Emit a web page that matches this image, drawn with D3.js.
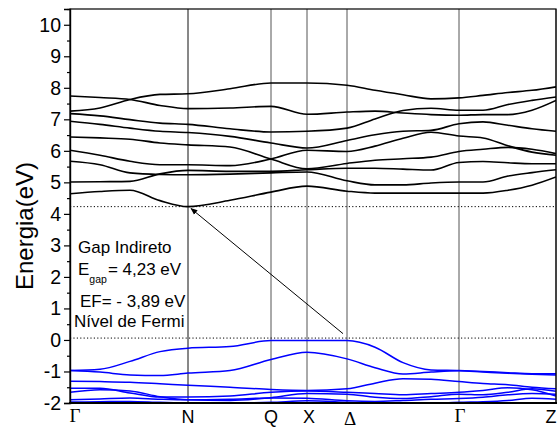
<!DOCTYPE html>
<html><head><meta charset="utf-8">
<script src="https://cdn.jsdelivr.net/npm/d3@7"></script>
<style>body{margin:0;background:#fff}</style>
</head><body><svg id="c" width="557" height="428"></svg>
<script>
// ---- data ----
const kLabels = ["Γ", "N", "Q", "X", "Δ", "Γ", "Z"];
const kPositions = [0, 118, 201, 237, 277, 389, 486];
const kGrid = [0, 30, 60, 90, 118, 160, 201, 237, 277, 305, 333, 361, 389, 413, 438, 462, 486];

const conduction1 = [7.74, 7.69, 7.63, 7.44, 7.34, 7.36, 7.41, 7.16, 7.23, 7.26, 7.20, 7.15, 7.13, 7.15, 7.15, 7.29, 7.60];
const conduction2 = [7.26, 7.36, 7.63, 7.79, 7.81, 7.97, 8.15, 8.15, 8.08, 7.92, 7.78, 7.65, 7.68, 7.76, 7.85, 7.92, 8.03];
const conduction3 = [7.18, 7.11, 6.99, 6.88, 6.84, 6.70, 6.60, 6.62, 6.72, 7.01, 7.28, 7.35, 7.29, 7.29, 7.47, 7.60, 7.71];
const conduction4 = [6.94, 6.84, 6.72, 6.62, 6.58, 6.46, 6.25, 6.09, 6.33, 6.51, 6.62, 6.65, 6.86, 6.92, 6.81, 6.70, 6.62];
const conduction5 = [6.44, 6.41, 6.37, 6.25, 6.19, 6.12, 5.74, 5.43, 5.60, 5.70, 5.75, 5.80, 5.98, 6.05, 6.11, 6.05, 5.91];
const conduction6 = [6.02, 5.86, 5.67, 5.56, 5.56, 5.53, 5.74, 6.02, 5.98, 6.15, 6.40, 6.59, 6.47, 6.41, 6.16, 5.96, 5.86];
const conduction7 = [5.67, 5.56, 5.30, 5.25, 5.24, 5.26, 5.30, 5.33, 5.05, 4.92, 4.92, 4.98, 5.01, 5.01, 5.20, 5.31, 5.40];
const conduction8 = [5.01, 5.02, 5.03, 5.27, 5.38, 5.35, 5.35, 5.40, 5.45, 5.45, 5.42, 5.39, 5.63, 5.66, 5.62, 5.59, 5.59];
const conduction9 = [4.64, 4.71, 4.75, 4.42, 4.23, 4.43, 4.69, 4.88, 4.72, 4.66, 4.66, 4.66, 4.66, 4.66, 4.75, 4.91, 5.17];

const valence1 = [-0.97, -0.93, -0.68, -0.37, -0.26, -0.21, -0.02, -0.02, -0.02, -0.23, -0.72, -0.95, -0.97, -1.00, -1.04, -1.07, -1.07];
const valence2 = [-0.97, -1.02, -1.11, -1.13, -1.05, -0.97, -0.62, -0.39, -0.60, -0.88, -1.08, -1.02, -0.98, -1.02, -1.06, -1.09, -1.11];
const valence3 = [-1.31, -1.32, -1.34, -1.39, -1.44, -1.50, -1.57, -1.60, -1.55, -1.37, -1.23, -1.25, -1.32, -1.38, -1.42, -1.50, -1.55];
const valence4 = [-1.53, -1.53, -1.68, -1.81, -1.81, -1.78, -1.66, -1.62, -1.66, -1.70, -1.74, -1.70, -1.66, -1.60, -1.52, -1.58, -1.78];
const valence5 = [-1.66, -1.58, -1.62, -1.80, -1.90, -1.92, -1.83, -1.70, -1.72, -1.82, -1.86, -1.80, -1.72, -1.74, -1.66, -1.55, -1.63];
const valence6 = [-1.90, -1.87, -1.84, -1.88, -1.90, -1.88, -1.84, -1.85, -1.93, -1.95, -1.92, -1.88, -1.86, -1.82, -1.74, -1.70, -1.72];
const valence7 = [-1.97, -1.96, -1.95, -1.98, -2.00, -2.00, -1.98, -1.93, -1.98, -2.02, -2.05, -2.02, -1.98, -1.96, -1.92, -1.85, -1.88];

const conductionBands = [conduction1, conduction2, conduction3, conduction4, conduction5, conduction6, conduction7, conduction8, conduction9];
const valenceBands = [valence1, valence2, valence3, valence4, valence5, valence6, valence7];

const yTicks = [-2, -1, 0, 1, 2, 3, 4, 5, 6, 7, 8, 9, 10];
const yMinorTicks = [-1.5, -0.5, 0.5, 1.5, 2.5, 3.5, 4.5, 5.5, 6.5, 7.5, 8.5, 9.5, 10.5];
const gapEnergy = 4.23;
const fermiLine = 0.06;
const arrowFrom = [273, 0.2];   // [k, E]
const arrowTo = [121, 4.17];
const yTitle = "Energia(eV)";
const noteLines = ["Gap Indireto", "E", "gap", "= 4,23 eV", "EF= - 3,89 eV", "Nível de Fermi"];

// ---- drawing ----
const svg = d3.select("#c");
const L = 70, R = 556, T = 9, B = 403;
const x = d3.scaleLinear().domain([0, 486]).range([L, R]);
const y = d3.scaleLinear().domain([-2, 10.5]).range([B, T]);

svg.append("rect").attr("width", 557).attr("height", 428).attr("fill", "#fff");

svg.append("defs").append("clipPath").attr("id", "clip")
  .append("rect").attr("x", L).attr("y", T).attr("width", R - L).attr("height", B - T);
svg.select("defs").append("marker").attr("id", "arr")
  .attr("viewBox", "0 0 10 10").attr("refX", 9).attr("refY", 5)
  .attr("markerWidth", 7).attr("markerHeight", 7).attr("orient", "auto-start-reverse")
  .attr("markerUnits", "userSpaceOnUse")
  .append("path").attr("d", "M0,1 L10,5 L0,9 Z").attr("fill", "#000");

// vertical high-symmetry lines
svg.append("g").selectAll("line").data(kPositions.slice(1)).join("line")
  .attr("x1", d => x(d)).attr("x2", d => x(d)).attr("y1", T).attr("y2", B)
  .attr("stroke", (d, i) => i === 0 ? "#111" : "#555").attr("stroke-width", 1);

// dotted lines
[gapEnergy, fermiLine].forEach(e => {
  svg.append("line").attr("x1", L).attr("x2", R).attr("y1", y(e)).attr("y2", y(e))
    .attr("stroke", "#000").attr("stroke-width", 1).attr("stroke-dasharray", "1.2,2.2");
});

const line = d3.line().x((d, i) => x(kGrid[i])).y(d => y(d)).curve(d3.curveMonotoneX);
const bands = svg.append("g").attr("clip-path", "url(#clip)").attr("fill", "none");
bands.selectAll("path.cb").data(conductionBands).join("path").attr("class", "cb")
  .attr("d", line).attr("stroke", "#000").attr("stroke-width", 1.6);
bands.selectAll("path.vb").data(valenceBands).join("path").attr("class", "vb")
  .attr("d", line).attr("stroke", "#0000ff").attr("stroke-width", 1.5);

// arrow
svg.append("line")
  .attr("x1", x(arrowFrom[0])).attr("y1", y(arrowFrom[1]))
  .attr("x2", x(arrowTo[0])).attr("y2", y(arrowTo[1]))
  .attr("stroke", "#000").attr("stroke-width", 1).attr("marker-end", "url(#arr)");

// frame
svg.append("rect").attr("x", L).attr("y", T).attr("width", R - L).attr("height", B - T)
  .attr("fill", "none").attr("stroke", "#000").attr("stroke-width", 1.2);
svg.append("line").attr("x1", L - 1).attr("x2", 557).attr("y1", B).attr("y2", B)
  .attr("stroke", "#000").attr("stroke-width", 2.2);

// y axis
const ax = svg.append("g").attr("transform", `translate(${L},0)`)
  .call(d3.axisLeft(y).tickValues(yTicks).tickSize(6).tickPadding(3).tickFormat(d => String(d)));
ax.select(".domain").attr("stroke-width", 1.4);
ax.selectAll("text").attr("font-family", "Liberation Sans, Arial, sans-serif").attr("font-size", 19.5).attr("fill", "#000");
ax.selectAll("line").attr("stroke-width", 1.2);
const axm = svg.append("g").attr("transform", `translate(${L},0)`)
  .call(d3.axisLeft(y).tickValues(yMinorTicks.filter(v => v <= 10.5)).tickSize(3).tickFormat(""));
axm.select(".domain").remove();
axm.selectAll("line").attr("stroke-width", 1.2);

// y title
svg.append("text").attr("transform", "translate(33,226) rotate(-90)")
  .attr("text-anchor", "middle").attr("font-family", "Liberation Sans, Arial, sans-serif")
  .attr("font-size", 24).text(yTitle);

// k labels
const labelDx = [5, 0, 0, 2, 3, 1, -5];
const labelDy = [422, 423, 423, 423, 425, 422, 423];
svg.append("g").selectAll("text").data(kLabels).join("text")
  .attr("x", (d, i) => x(kPositions[i]) + labelDx[i])
  .attr("y", (d, i) => labelDy[i])
  .attr("text-anchor", "middle")
  .attr("font-family", d => (d === "Γ" || d === "Δ") ? "Liberation Serif, Times New Roman, serif" : "Liberation Sans, Arial, sans-serif")
  .attr("font-size", d => (d === "Γ" || d === "Δ") ? 19 : 18)
  .text(d => d);

// annotations
const ff = "Liberation Sans, Arial, sans-serif";
svg.append("text").attr("x", 78).attr("y", 253).attr("font-family", ff).attr("font-size", 17).text(noteLines[0]);
const eg = svg.append("text").attr("x", 78).attr("y", 275).attr("font-family", ff).attr("font-size", 17);
eg.append("tspan").text(noteLines[1]);
eg.append("tspan").attr("font-size", 10.5).attr("dy", 8).text(noteLines[2]);
eg.append("tspan").attr("dy", -8).attr("dx", 1).text(noteLines[3]);
svg.append("text").attr("x", 80).attr("y", 307).attr("font-family", ff).attr("font-size", 17).text(noteLines[4]);
svg.append("text").attr("x", 74).attr("y", 327).attr("font-family", ff).attr("font-size", 17).text(noteLines[5]);
</script></body></html>
